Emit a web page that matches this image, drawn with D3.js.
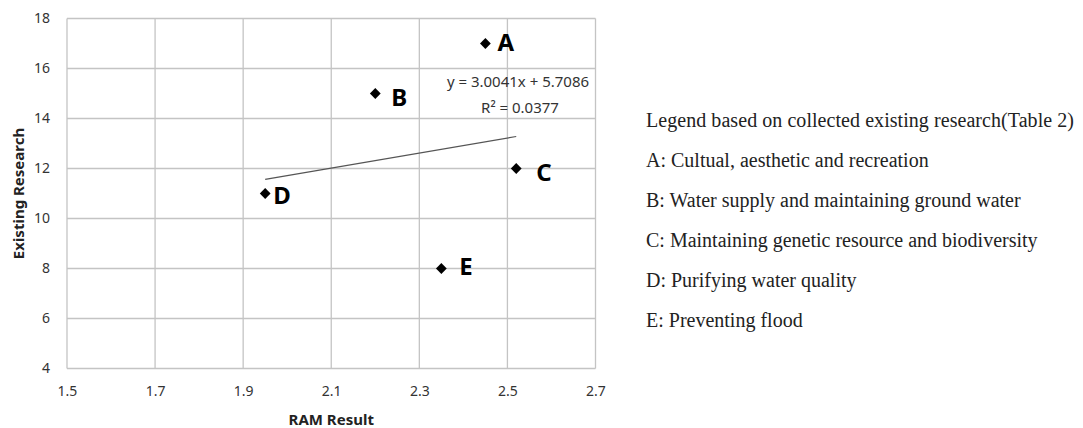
<!DOCTYPE html>
<html>
<head>
<meta charset="utf-8">
<script src="https://cdn.jsdelivr.net/npm/d3@7"></script>
<style>
  body { margin: 0; background: #fff; }
  svg { display: block; }
</style>
</head>
<body>
<svg id="chart" width="1083" height="428"></svg>
<script>
'use strict';

// data
const labels = ['A', 'B', 'C', 'D', 'E'];
const ramResult = [2.45, 2.2, 2.52, 1.95, 2.35];
const existingResearch = [17, 15, 12, 11, 8];
const xTicks = [1.5, 1.7, 1.9, 2.1, 2.3, 2.5, 2.7];
const yTicks = [4, 6, 8, 10, 12, 14, 16, 18];
const trendSlope = 3.0041;
const trendIntercept = 5.7086;
const rSquared = 0.0377;
const legendTitle = 'Legend based on collected existing research(Table 2)';
const legendItems = [
  'A: Cultual, aesthetic and recreation',
  'B: Water supply and maintaining ground water',
  'C: Maintaining genetic resource and biodiversity',
  'D: Purifying water quality',
  'E: Preventing flood',
];

const svg = d3.select('#chart');
const plot = { left: 67, top: 18.5, right: 595.5, bottom: 368.5 };
const gridColor = '#c4c4c4';
const font = '"Noto Sans", "DejaVu Sans", sans-serif';

const x = d3.scaleLinear().domain([1.5, 2.7]).range([plot.left, plot.right]);
const y = d3.scaleLinear().domain([4, 18]).range([plot.bottom, plot.top]);

// grid
const grid = svg.append('g').attr('class', 'grid');
grid.selectAll('.vgrid')
  .data(xTicks)
  .enter()
  .append('line')
  .attr('x1', d => x(d)).attr('x2', d => x(d))
  .attr('y1', plot.top).attr('y2', plot.bottom)
  .attr('stroke', gridColor).attr('stroke-width', 1.3);
grid.selectAll('.hgrid')
  .data(yTicks)
  .enter()
  .append('line')
  .attr('x1', plot.left).attr('x2', plot.right)
  .attr('y1', d => y(d)).attr('y2', d => y(d))
  .attr('stroke', gridColor).attr('stroke-width', 1.3);

// axes (labels only, lines are the grid)
const xAxis = svg.append('g')
  .attr('transform', 'translate(0,' + (plot.bottom + 15) + ')')
  .call(d3.axisBottom(x).tickValues(xTicks).tickSize(0).tickFormat(d3.format('.1f')));
const yAxis = svg.append('g')
  .attr('transform', 'translate(' + (plot.left - 14) + ',0)')
  .call(d3.axisLeft(y).tickValues(yTicks).tickSize(0));
[xAxis, yAxis].forEach(function(a) {
  a.select('.domain').remove();
  a.selectAll('text')
    .attr('font-family', font)
    .attr('font-size', 14)
    .attr('fill', '#333');
});

// axis titles
svg.append('text')
  .attr('x', (plot.left + plot.right) / 2)
  .attr('y', 425)
  .attr('text-anchor', 'middle')
  .attr('font-family', font)
  .attr('font-weight', 'bold')
  .attr('font-size', 15)
  .attr('fill', '#222')
  .text('RAM Result');
svg.append('text')
  .attr('transform', 'translate(24,' + (plot.top + plot.bottom) / 2 + ') rotate(-90)')
  .attr('text-anchor', 'middle')
  .attr('font-family', font)
  .attr('font-weight', 'bold')
  .attr('font-size', 15)
  .attr('fill', '#222')
  .text('Existing Research');

// trend line across the data range
const xExtent = d3.extent(ramResult);
svg.append('line')
  .attr('x1', x(xExtent[0]))
  .attr('y1', y(trendSlope * xExtent[0] + trendIntercept))
  .attr('x2', x(xExtent[1]))
  .attr('y2', y(trendSlope * xExtent[1] + trendIntercept))
  .attr('stroke', '#555')
  .attr('stroke-width', 1.2);

svg.append('text')
  .attr('x', 518)
  .attr('y', 87)
  .attr('text-anchor', 'middle')
  .attr('font-family', font)
  .attr('font-size', 15)
  .attr('fill', '#333')
  .text('y = ' + trendSlope + 'x + ' + trendIntercept);
svg.append('text')
  .attr('x', 520)
  .attr('y', 113)
  .attr('text-anchor', 'middle')
  .attr('font-family', font)
  .attr('font-size', 15)
  .attr('fill', '#333')
  .text('R² = ' + rSquared);

// points
const points = labels.map((l, i) => ({ label: l, x: ramResult[i], y: existingResearch[i] }));
// label offsets like in the original figure
const labelDx = { A: 12, B: 16, C: 20, D: 8, E: 18 };
const labelDy = { A: -1, B: 4, C: 4, D: 2, E: -2 };

const pts = svg.append('g').attr('class', 'points');
pts.selectAll('path')
  .data(points)
  .enter()
  .append('path')
  .attr('d', d3.symbol().type(d3.symbolSquare).size(58))
  .attr('transform', d => 'translate(' + x(d.x) + ',' + y(d.y) + ') rotate(45)')
  .attr('fill', '#000');
pts.selectAll('text')
  .data(points)
  .enter()
  .append('text')
  .attr('x', d => x(d.x) + labelDx[d.label])
  .attr('y', d => y(d.y) + labelDy[d.label])
  .attr('dy', '0.36em')
  .attr('font-family', font)
  .attr('font-weight', 'bold')
  .attr('font-size', 24)
  .attr('fill', '#000')
  .text(d => d.label);

// legend text on the right
const legend = svg.append('g')
  .attr('transform', 'translate(646,120)')
  .attr('font-family', '"Liberation Serif", "Times New Roman", serif')
  .attr('font-size', 20)
  .attr('fill', '#222');
legend.selectAll('text')
  .data([legendTitle].concat(legendItems))
  .enter()
  .append('text')
  .attr('x', 0)
  .attr('y', (d, i) => i * 40)
  .attr('dy', '0.35em')
  .attr('textLength', (d, i) => (i === 0 ? 428 : null))
  .text(d => d);
</script>
</body>
</html>
